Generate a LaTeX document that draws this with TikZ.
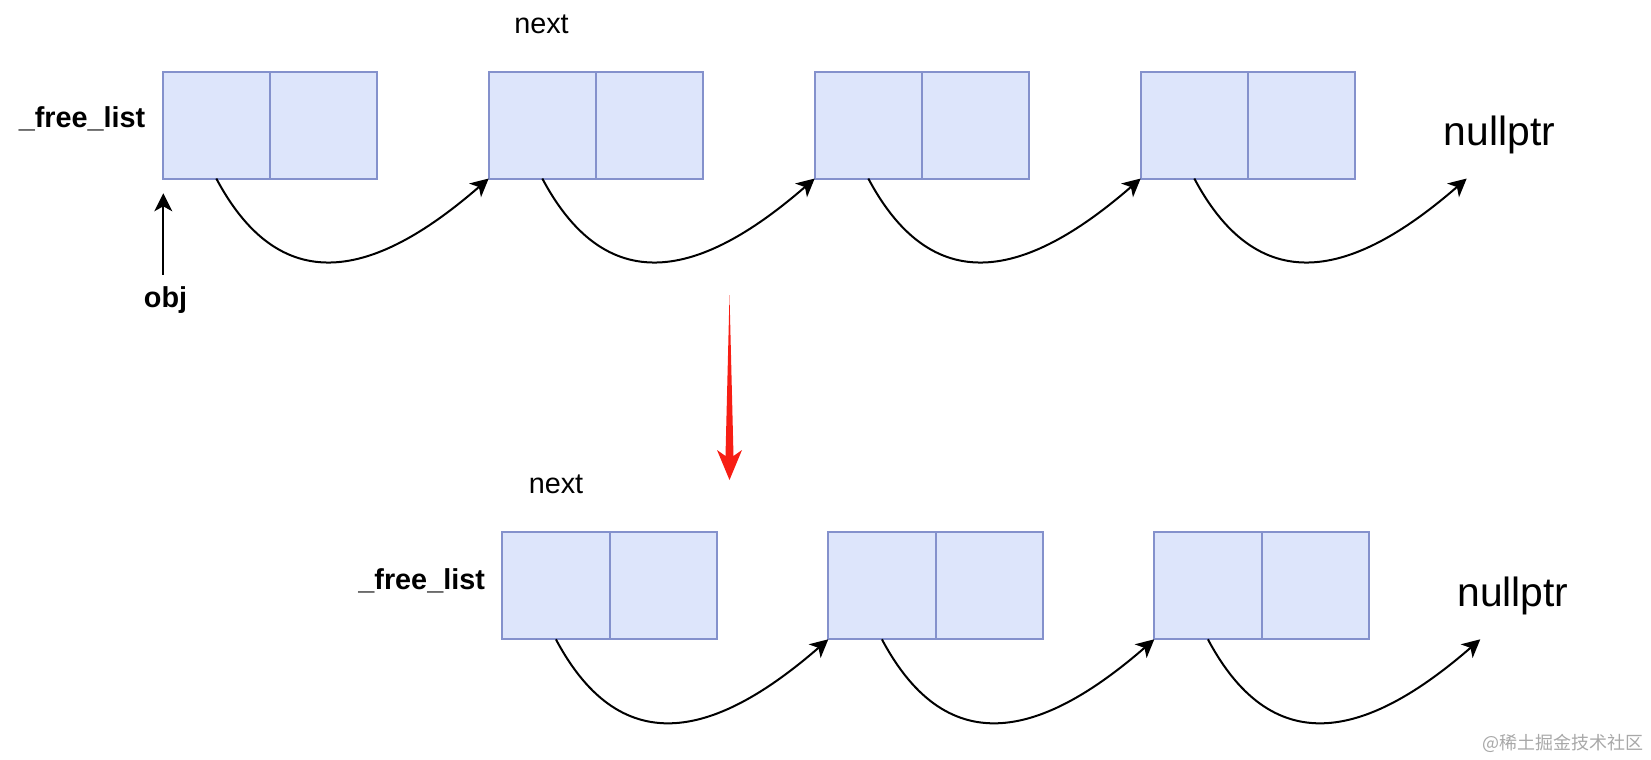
\documentclass[tikz,border=0pt]{standalone}
\usepackage{fontspec}
\setmainfont{Liberation Sans}
\newfontfamily\cjk{Noto Sans CJK SC}
\usetikzlibrary{arrows.meta}
\definecolor{cellfill}{HTML}{DDE5FB}
\definecolor{celldraw}{HTML}{8491CC}
\definecolor{redarrow}{HTML}{F71E14}
\definecolor{wmgray}{HTML}{A8A8A8}
\tikzset{
  cell/.style={draw=celldraw, fill=cellfill, line width=1pt, minimum width=53.6pt, minimum height=53.5pt, inner sep=0pt, outer sep=0pt},
  lbl/.style={inner sep=0pt, anchor=base, font=\fontsize{14.4}{17}\selectfont},
  blbl/.style={inner sep=0pt, anchor=base east, font=\fontsize{14.4}{17}\selectfont\bfseries},
  nul/.style={inner sep=0pt, anchor=base, font=\fontsize{20.4}{24}\selectfont},
  arr/.style={-{Stealth[length=9pt,width=9pt,inset=2.5pt]}, line width=1pt, black},
  link/.style={arr, out=-62, in=-139, looseness=1.35}
}
\begin{document}
\begin{tikzpicture}[x=0.5pt,y=-0.5pt]
\useasboundingbox (0,0) rectangle (1651,760);
% top row
\foreach \i/\l in {1/162.7,2/488.7,3/814.7,4/1140.7}{
  \node[cell] (t\i a) at (\l+26.8*2,125) {};
  \node[cell] (t\i b) at (\l+26.8*6,125) {};
}
\coordinate (tnull) at (1466.7,178.5);
\node[blbl] (tfl) at (145.7,127.7) {\_free\_list};
\node[lbl] (tnext) at (541.5,33.3) {next};
\node[nul] (tnp) at (1499.5,145.7) {nullptr};
\node[inner sep=0pt, anchor=base, font=\fontsize{14.4}{17}\selectfont\bfseries] (obj) at (165.5,307) {obj};
\coordinate (objtip) at (163.3,193.3);
\draw[arr] ([xshift=-1.1pt,yshift=5.5pt]obj.north) -- (objtip);
\draw[link] (t1a.south) to (t2a.south west);
\draw[link] (t2a.south) to (t3a.south west);
\draw[link] (t3a.south) to (t4a.south west);
\draw[link] (t4a.south) to (tnull);
% red arrow
\coordinate (rtop) at (729.5,295);
\coordinate (rtip) at (729.5,480);
\fill[redarrow] (rtop) -- (733.5,456) -- (742,450) -- (rtip) -- (717,450) -- (725.5,456) -- cycle;
% bottom row
\foreach \i/\l in {1/502.3,2/828.3,3/1154.3}{
  \node[cell] (b\i a) at (\l+26.8*2,585.8) {};
  \node[cell] (b\i b) at (\l+26.8*6,585.8) {};
}
\coordinate (bnull) at (1480.3,639.3);
\node[blbl] (bfl) at (485.3,589) {\_free\_list};
\node[lbl] (bnext) at (556,493) {next};
\node[nul] (bnp) at (1513,606.7) {nullptr};
\draw[link] (b1a.south) to (b2a.south west);
\draw[link] (b2a.south) to (b3a.south west);
\draw[link] (b3a.south) to (bnull);
% watermark
\node[inner sep=0pt, anchor=east, text=wmgray, font=\cjk\fontsize{9}{11}\selectfont] (wm) at (1644,743.5) {@稀土掘金技术社区};
\end{tikzpicture}
\end{document}
